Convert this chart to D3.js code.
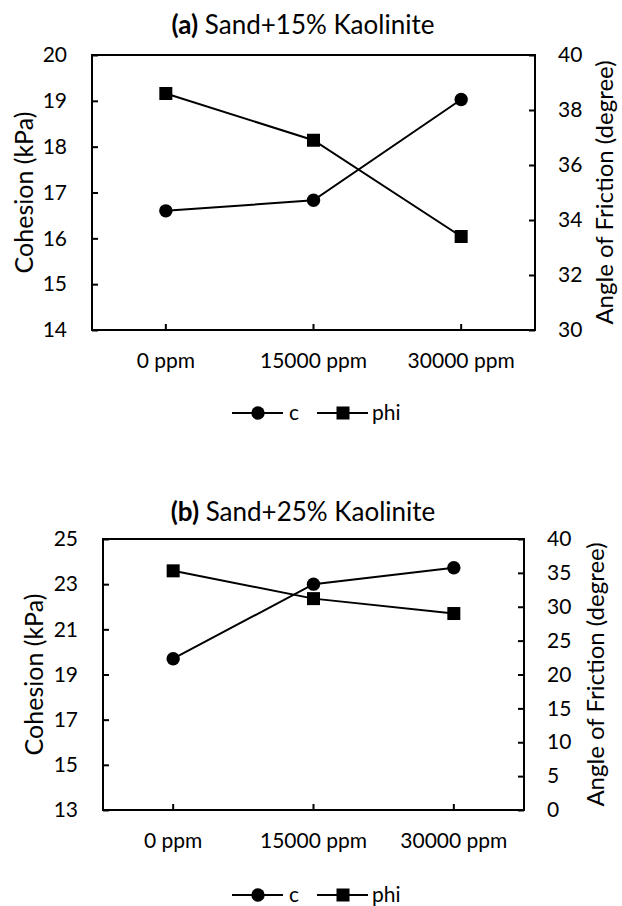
<!DOCTYPE html>
<html>
<head>
<meta charset="utf-8">
<script src="https://cdn.jsdelivr.net/npm/d3@7"></script>
<style>
  body { margin: 0; background: #fff; }
  svg { display: block; }
</style>
</head>
<body>
<script>
// categories and values
const categories = ['0 ppm', '15000 ppm', '30000 ppm'];

const cohesionA = [16.6, 16.83, 19.03];
const phiA = [38.6, 36.9, 33.4];
const cohesionB = [19.7, 23.0, 23.73];
const phiB = [35.3, 31.2, 29.0];

const leftTicksA = [14, 15, 16, 17, 18, 19, 20];
const rightTicksA = [30, 32, 34, 36, 38, 40];
const leftTicksB = [13, 15, 17, 19, 21, 23, 25];
const rightTicksB = [0, 5, 10, 15, 20, 25, 30, 35, 40];

const width = 622;
const height = 906;
const font = 'Lato, "Open Sans", sans-serif';
const tickFont = 21;

const svg = d3.select('body').append('svg')
    .attr('width', width)
    .attr('height', height)
    .style('font-family', font);

function drawPanel(p) {
    const g = svg.append('g');

    const x = d3.scaleBand()
        .domain(categories)
        .range([p.left, p.right])
        .padding(0);
    const yL = d3.scaleLinear()
        .domain(d3.extent(p.leftTicks))
        .range([p.bottom, p.top]);
    const yR = d3.scaleLinear()
        .domain(d3.extent(p.rightTicks))
        .range([p.bottom, p.top]);
    const cx = d => x(d) + x.bandwidth() / 2;

    // title
    const title = g.append('text')
        .attr('x', 303)
        .attr('y', p.titleY)
        .attr('dy', '0.35em')
        .attr('text-anchor', 'middle')
        .attr('font-size', 26);
    title.append('tspan').attr('font-weight', 'bold').text(p.tag);
    title.append('tspan').text(' ' + p.title);

    // axes, ticks pointing inward
    const fmt = d3.format('d');
    const axL = g.append('g')
        .attr('transform', `translate(${p.left},0)`)
        .call(d3.axisLeft(yL).tickValues(p.leftTicks).tickFormat(fmt).tickSize(-6).tickPadding(25));
    const axR = g.append('g')
        .attr('transform', `translate(${p.right},0)`)
        .call(d3.axisRight(yR).tickValues(p.rightTicks).tickFormat(fmt).tickSize(-6).tickPadding(23));
    const axX = g.append('g')
        .attr('transform', `translate(0,${p.bottom})`)
        .call(d3.axisBottom(x).tickSize(-6).tickPadding(23));

    [axL, axR, axX].forEach(ax => {
        ax.select('.domain').remove();
        ax.selectAll('.tick line').attr('stroke', '#000').attr('stroke-width', 2);
        ax.selectAll('.tick text')
            .attr('fill', '#000')
            .attr('font-size', tickFont)
            .attr('font-family', font);
    });

    // plot frame
    g.append('rect')
        .attr('x', p.left)
        .attr('y', p.top)
        .attr('width', p.right - p.left)
        .attr('height', p.bottom - p.top)
        .attr('fill', 'none')
        .attr('stroke', '#000')
        .attr('stroke-width', 2);

    // axis titles
    const midY = (p.top + p.bottom) / 2;
    g.append('text')
        .attr('transform', `translate(${p.leftTitleX},${midY}) rotate(-90)`)
        .attr('dy', '0.35em')
        .attr('text-anchor', 'middle')
        .attr('font-size', 25)
        .text('Cohesion (kPa)');
    g.append('text')
        .attr('transform', `translate(${p.rightTitleX},${midY}) rotate(-90)`)
        .attr('dy', '0.35em')
        .attr('text-anchor', 'middle')
        .attr('font-size', 24)
        .text('Angle of Friction (degree)');

    // series
    const lineC = d3.line().x((d, i) => cx(categories[i])).y(d => yL(d));
    const lineP = d3.line().x((d, i) => cx(categories[i])).y(d => yR(d));

    g.append('path')
        .datum(p.cohesion)
        .attr('d', lineC)
        .attr('fill', 'none')
        .attr('stroke', '#000')
        .attr('stroke-width', 2);
    g.append('path')
        .datum(p.phi)
        .attr('d', lineP)
        .attr('fill', 'none')
        .attr('stroke', '#000')
        .attr('stroke-width', 2);

    g.selectAll('circle.c')
        .data(p.cohesion)
        .enter()
        .append('circle')
        .attr('class', 'c')
        .attr('cx', (d, i) => cx(categories[i]))
        .attr('cy', d => yL(d))
        .attr('r', 6.7)
        .attr('fill', '#000');
    g.selectAll('rect.phi')
        .data(p.phi)
        .enter()
        .append('rect')
        .attr('class', 'phi')
        .attr('x', (d, i) => cx(categories[i]) - 6.5)
        .attr('y', d => yR(d) - 6.5)
        .attr('width', 13)
        .attr('height', 13)
        .attr('fill', '#000');

    // legend
    const lg = g.append('g').attr('transform', `translate(0,${p.legendY})`);
    lg.append('line').attr('x1', 232).attr('x2', 283).attr('y1', 0).attr('y2', 0)
        .attr('stroke', '#000').attr('stroke-width', 2);
    lg.append('circle').attr('cx', 258).attr('cy', 0).attr('r', 6.7).attr('fill', '#000');
    lg.append('text').attr('x', 289).attr('dy', '0.35em').attr('font-size', tickFont).text('c');
    lg.append('line').attr('x1', 317).attr('x2', 368).attr('y1', 0).attr('y2', 0)
        .attr('stroke', '#000').attr('stroke-width', 2);
    lg.append('rect').attr('x', 343 - 6.5).attr('y', -6.5).attr('width', 13).attr('height', 13)
        .attr('fill', '#000');
    lg.append('text').attr('x', 372).attr('dy', '0.35em').attr('font-size', tickFont).text('phi');
}

drawPanel({
    tag: '(a)', title: 'Sand+15% Kaolinite',
    left: 92, right: 535, top: 55, bottom: 330,
    titleY: 25, legendY: 413, leftTitleX: 24, rightTitleX: 605,
    leftTicks: leftTicksA, rightTicks: rightTicksA,
    cohesion: cohesionA, phi: phiA
});

drawPanel({
    tag: '(b)', title: 'Sand+25% Kaolinite',
    left: 103, right: 524, top: 539, bottom: 810,
    titleY: 512, legendY: 895, leftTitleX: 34, rightTitleX: 596,
    leftTicks: leftTicksB, rightTicks: rightTicksB,
    cohesion: cohesionB, phi: phiB
});
</script>
</body>
</html>
